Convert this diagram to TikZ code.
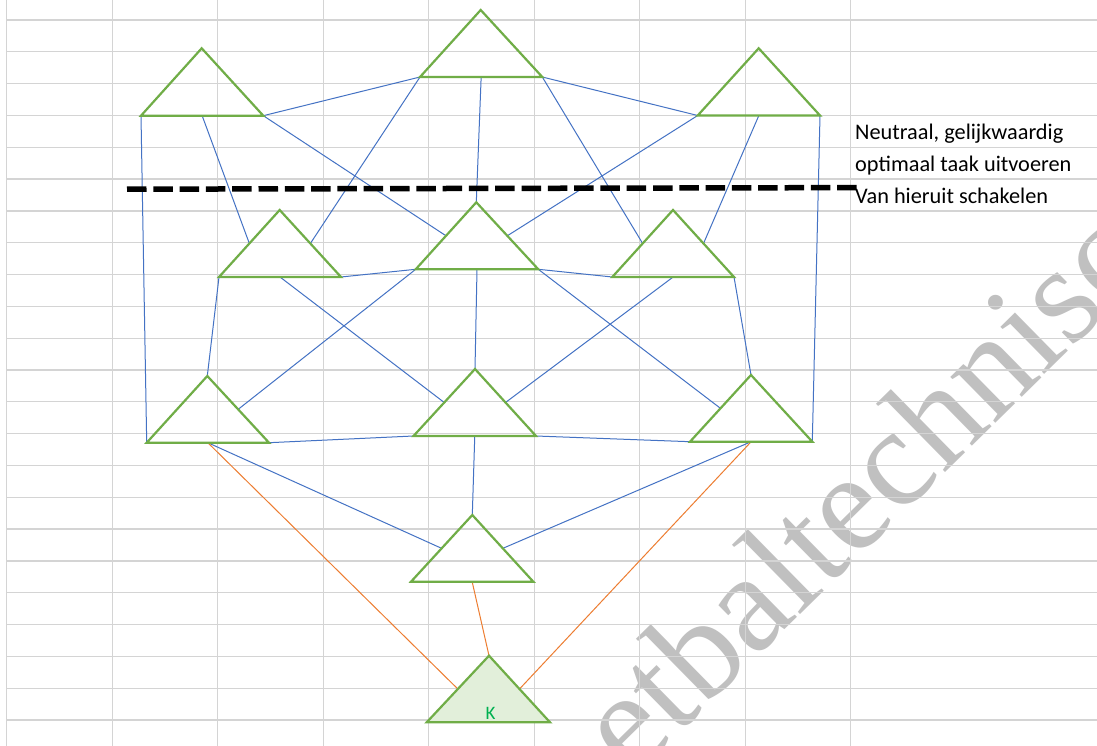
\documentclass[tikz,border=0pt]{standalone}
\usepackage{fontspec}
\setmainfont{Carlito}
\newfontfamily\wmfont{Liberation Serif}
\usetikzlibrary{calc}
\definecolor{gridc}{RGB}{212,212,212}
\definecolor{trig}{RGB}{112,173,71}
\definecolor{trifill}{RGB}{226,239,218}
\definecolor{linkb}{RGB}{68,114,196}
\definecolor{linko}{RGB}{237,125,49}
\definecolor{kgreen}{RGB}{0,176,80}
\definecolor{wmgray}{RGB}{192,192,192}
\newcommand\mktri[6]{%
  \coordinate (#1-l) at (#2,#4);
  \coordinate (#1-r) at (#3,#4);
  \coordinate (#1-a) at (#5,#6);
  \coordinate (#1-b) at ($(#1-l)!0.5!(#1-r)$);
  \coordinate (#1-le) at ($(#1-a)!0.5!(#1-l)$);
  \coordinate (#1-re) at ($(#1-a)!0.5!(#1-r)$);
}
\tikzset{
  gridline/.style={draw=gridc, line width=1.3pt},
  tri/.style={draw=trig, line width=2.2pt, line join=miter},
  trik/.style={tri, fill=trifill},
  blink/.style={draw=linkb, line width=1pt},
  olink/.style={draw=linko, line width=1pt},
  divider/.style={draw=black, line width=5.5pt, dash pattern=on 19.5pt off 6.8pt},
  lbl/.style={font=\fontsize{22.3}{26}\selectfont, text=black, inner sep=0pt, anchor=base west},
  klbl/.style={font=\fontsize{19}{22}\selectfont, text=kgreen, inner sep=0pt, anchor=base},
  wmark/.style={font=\wmfont\fontsize{140}{140}\selectfont, text=wmgray, inner sep=0pt, anchor=base west, rotate=44.5}
}
\begin{document}
\begin{tikzpicture}[x=1pt, y=-1pt]
\useasboundingbox (0,0) rectangle (1097,746);
\fill[white] (0,0) rectangle (1097,746);
% watermark
\begin{scope}
\clip (0,0) rectangle (1097,746);
\node[wmark] (wm) at (632.4,779.8) {etbaltechnisc};
\end{scope}
% grid
\foreach \k in {0,...,22} \draw[gridline] (6.7,20+31.82*\k) -- (1097,20+31.82*\k);
\foreach \k in {0,...,8} \draw[gridline] (6.7+105.5*\k,0) -- (6.7+105.5*\k,746);
% triangles (coordinates)
\mktri{T1}{141}{263.3}{115.7}{201.7}{48.3}
\mktri{T2}{420}{542.3}{77}{480.7}{10}
\mktri{T3}{697.7}{820}{115.5}{758.7}{48.3}
\mktri{T4}{219}{341}{277}{279.7}{210}
\mktri{T5}{415.7}{538.3}{269.3}{476.3}{202.3}
\mktri{T6}{612.3}{734}{277}{673}{210}
\mktri{T7}{146.7}{269}{442.7}{207.3}{376}
\mktri{T8}{413.5}{536}{436}{475}{369}
\mktri{T9}{690}{812.3}{441.7}{751}{375}
\mktri{T10}{411}{533.3}{581.7}{472.3}{515}
\mktri{K}{426.7}{550}{722.3}{489}{655.7}
% blue connectors
\draw[blink] (T1-l) -- (T7-l);
\draw[blink] (T1-b) -- (T4-le);
\draw[blink] (T1-r) -- (T2-l);
\draw[blink] (T1-r) -- (T5-le);
\draw[blink] (T2-l) -- (T4-re);
\draw[blink] (T2-b) -- (T5-a);
\draw[blink] (T2-r) -- (T3-l);
\draw[blink] (T2-r) -- (T6-le);
\draw[blink] (T3-l) -- (T5-re);
\draw[blink] (T3-b) -- (T6-re);
\draw[blink] (T3-r) -- (T9-r);
\draw[blink] (T4-l) -- (T7-a);
\draw[blink] (T4-r) -- (T5-l);
\draw[blink] (T4-b) -- (T8-le);
\draw[blink] (T5-l) -- (T7-re);
\draw[blink] (T5-b) -- (T8-a);
\draw[blink] (T5-r) -- (T6-l);
\draw[blink] (T5-r) -- (T9-le);
\draw[blink] (T6-b) -- (T8-re);
\draw[blink] (T6-r) -- (T9-a);
\draw[blink] (T7-r) -- (T8-l);
\draw[blink] (T8-r) -- (T9-l);
\draw[blink] (T7-b) -- (T10-le);
\draw[blink] (T9-b) -- (T10-re);
\draw[blink] (T8-b) -- (T10-a);
% orange connectors
\draw[olink] (T7-b) -- (K-le);
\draw[olink] (T9-b) -- (K-re);
\draw[olink] (T10-b) -- (K-a);
% triangles
\foreach \t in {T1,T2,T3,T4,T5,T6,T7,T8,T9,T10}
  \draw[tri] (\t-l) -- (\t-a) -- (\t-r) -- cycle;
\draw[trik] (K-l) -- (K-a) -- (K-r) -- cycle;
\node[klbl] (klab) at (490.5,719) {K};
% divider
\coordinate (dA) at (127,189.2);
\coordinate (dB) at (857,187.6);
\draw[divider] (dA) -- (dB);
% labels
\node[lbl] (l1) at (855,139.5) {Neutraal, gelijkwaardig};
\node[lbl] (l2) at (855,171.5) {optimaal taak uitvoeren};
\node[lbl] (l3) at (855,203.3) {Van hieruit schakelen};
\end{tikzpicture}
\end{document}
